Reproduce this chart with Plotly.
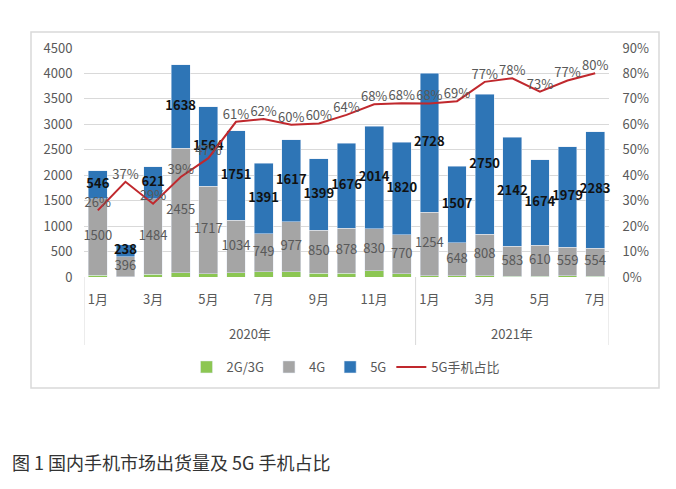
import plotly.graph_objects as go

# 月份与数据（万部）
months = ["1月", "2月", "3月", "4月", "5月", "6月", "7月", "8月", "9月", "10月", "11月", "12月",
          "1月", "2月", "3月", "4月", "5月", "6月", "7月"]
years = ["2020年", "2021年"]
g23 = [39, 4, 57, 80, 64, 85, 100, 108, 70, 76, 122, 60, 20, 24, 29, 17, 16, 25, 13]
g4 = [1500, 396, 1484, 2455, 1717, 1034, 749, 977, 850, 878, 830, 770,
      1254, 648, 808, 583, 610, 559, 554]
g5 = [546, 238, 621, 1638, 1564, 1751, 1391, 1617, 1399, 1676, 2014, 1820,
      2728, 1507, 2750, 2142, 1674, 1979, 2283]
share = [0.262, 0.374, 0.288, 0.393, 0.467, 0.61, 0.621, 0.598, 0.603, 0.637, 0.679, 0.683,
         0.682, 0.691, 0.767, 0.781, 0.728, 0.772, 0.801]

FONT = "Noto Sans CJK SC, Noto Sans, sans-serif"
GRAY_TXT = "#595959"

# 屏幕像素中的绘图区（页面 body 有 8px 边距）
OFF = 8
L, R, T, B = 84, 609, 48, 277
def fx(p):
    return (p - L) / (R - L)
def fy(p):
    return (B - p) / (B - T)

x = list(range(len(months)))

fig = go.Figure()
fig.add_trace(go.Bar(x=x, y=g23, name="2G/3G", marker_color="#8CC653", width=0.68))
fig.add_trace(go.Bar(x=x, y=g4, name="4G", marker_color="#A5A5A5", width=0.68))
fig.add_trace(go.Bar(x=x, y=g5, name="5G", marker_color="#2E75B6", width=0.68))
fig.add_trace(go.Scatter(x=x, y=share, name="5G手机占比", mode="lines",
                         line=dict(color="#C0282D", width=2), yaxis="y2"))

# 数据标签
fig.add_trace(go.Scatter(x=x, y=[a + b / 2 for a, b in zip(g23, g4)], mode="text",
                         text=[str(v) for v in g4], textfont=dict(size=13, color=GRAY_TXT, family=FONT),
                         showlegend=False, hoverinfo="skip", cliponaxis=False))
fig.add_trace(go.Scatter(x=x, y=[a + b + c / 2 for a, b, c in zip(g23, g4, g5)], mode="text",
                         text=["<b>%d</b>" % v for v in g5], textfont=dict(size=13, color="#111111", family=FONT),
                         showlegend=False, hoverinfo="skip", cliponaxis=False))
fig.add_trace(go.Scatter(x=x, y=share, mode="text", yaxis="y2", textposition="top center",
                         text=["%d%%" % round(v * 100) for v in share],
                         textfont=dict(size=13, color=GRAY_TXT, family=FONT),
                         showlegend=False, hoverinfo="skip", cliponaxis=False))

shapes = [
    dict(type="rect", xref="paper", yref="paper", x0=fx(31), x1=fx(659), y0=fy(388), y1=fy(32),
         line=dict(color="#D9D9D9", width=1.5), layer="below"),
]
for xv in [-0.5, 11.5, 18.5]:
    shapes.append(dict(type="line", xref="x", yref="paper", x0=xv, x1=xv, y0=0, y1=fy(345),
                       line=dict(color="#D9D9D9", width=1)))

annotations = [
    dict(x=5.5, y=fy(333), xref="x", yref="paper", yanchor="middle", text=years[0], showarrow=False,
         font=dict(size=13, color=GRAY_TXT, family=FONT)),
    dict(x=15, y=fy(333), xref="x", yref="paper", yanchor="middle", text=years[1], showarrow=False,
         font=dict(size=13, color=GRAY_TXT, family=FONT)),
    dict(x=fx(10), y=fy(462), xref="paper", yref="paper", xanchor="left", yanchor="middle",
         text="图 1 国内手机市场出货量及 5G 手机占比",
         showarrow=False, font=dict(size=18, color="#333333", family=FONT)),
]

fig.update_layout(
    width=676, height=489,
    margin=dict(l=L - OFF, r=676 - (R - OFF), t=T - OFF, b=489 - (B - OFF)),
    paper_bgcolor="white", plot_bgcolor="white",
    barmode="stack",
    font=dict(family=FONT, size=13, color=GRAY_TXT),
    xaxis=dict(range=[-0.5, 18.5], tickvals=x[::2], ticktext=months[::2],
               ticks="outside", ticklen=10, tickcolor="rgba(0,0,0,0)",
               showgrid=False, zeroline=False, showline=False,
               tickfont=dict(size=13, color=GRAY_TXT)),
    yaxis=dict(range=[0, 4500], dtick=500, gridcolor="#D9D9D9", zeroline=False,
               ticks="outside", ticklen=8, tickcolor="rgba(0,0,0,0)",
               tickfont=dict(size=13, color=GRAY_TXT)),
    yaxis2=dict(range=[0, 0.9], dtick=0.1, tickformat=".0%", overlaying="y", side="right",
                showgrid=False, zeroline=False, ticks="outside", ticklen=10,
                tickcolor="rgba(0,0,0,0)", tickfont=dict(size=13, color=GRAY_TXT)),
    legend=dict(orientation="h", x=fx(346), xanchor="center", y=fy(367), yanchor="middle",
                font=dict(size=13, color=GRAY_TXT), itemwidth=30, traceorder="normal"),
    shapes=shapes,
    annotations=annotations,
    showlegend=True,
)

fig.write_html("out.html")
